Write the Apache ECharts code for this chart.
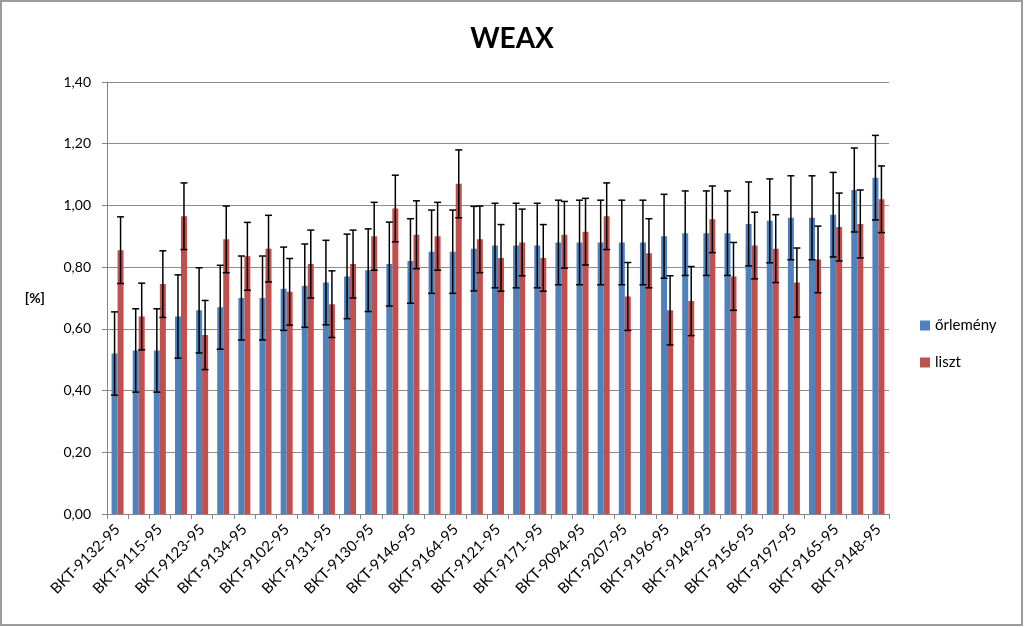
<!DOCTYPE html>
<html>
<head>
<meta charset="utf-8">
<script src="https://cdn.jsdelivr.net/npm/echarts@6/dist/echarts.min.js"></script>
<style>
html,body{margin:0;padding:0;background:#fff;}
#chart{width:1024px;height:627px;}
</style>
</head>
<body>
<div id="chart"></div>
<script>
const categories = [
  'BKT-9132-95','', 'BKT-9115-95','', 'BKT-9123-95','', 'BKT-9134-95','', 'BKT-9102-95','',
  'BKT-9131-95','', 'BKT-9130-95','', 'BKT-9146-95','', 'BKT-9164-95','', 'BKT-9121-95','',
  'BKT-9171-95','', 'BKT-9094-95','', 'BKT-9207-95','', 'BKT-9196-95','', 'BKT-9149-95','',
  'BKT-9156-95','', 'BKT-9197-95','', 'BKT-9165-95','', 'BKT-9148-95'
];
const orlemeny = [0.52,0.53,0.53,0.64,0.66,0.67,0.70,0.70,0.73,0.74,0.75,0.77,0.79,0.81,0.82,0.85,0.85,0.86,0.87,0.87,0.87,0.88,0.88,0.88,0.88,0.88,0.90,0.91,0.91,0.91,0.94,0.95,0.96,0.96,0.97,1.05,1.09];
const orlemenyErr = [0.135,0.135,0.135,0.135,0.138,0.136,0.136,0.136,0.135,0.135,0.137,0.137,0.134,0.136,0.137,0.135,0.135,0.137,0.137,0.137,0.137,0.137,0.137,0.137,0.137,0.137,0.136,0.137,0.137,0.137,0.136,0.136,0.136,0.136,0.137,0.136,0.137];
const liszt = [0.855,0.64,0.745,0.965,0.58,0.89,0.835,0.86,0.72,0.81,0.68,0.81,0.90,0.99,0.905,0.90,1.07,0.89,0.83,0.88,0.83,0.905,0.915,0.965,0.705,0.845,0.66,0.69,0.955,0.77,0.87,0.86,0.75,0.825,0.93,0.94,1.02];
const lisztErr = [0.108,0.108,0.108,0.108,0.112,0.108,0.110,0.108,0.108,0.110,0.108,0.110,0.110,0.108,0.110,0.110,0.110,0.108,0.108,0.108,0.108,0.108,0.108,0.108,0.110,0.112,0.112,0.112,0.108,0.110,0.108,0.110,0.112,0.108,0.110,0.110,0.108];
const yTicks = {min:0, max:1.4, interval:0.2};

const BAR_W = 6;
function errRender(offset){
  return function(params, api){
    const i = api.value(0), v = api.value(1), e = api.value(2);
    const t = api.coord([i, v + e]);
    const b = api.coord([i, v - e]);
    const x = t[0] + offset;
    const cap = 3.5;
    const st = {stroke:'#000', lineWidth:1.5};
    return {type:'group', children:[
      {type:'line', shape:{x1:x, y1:t[1], x2:x, y2:b[1]}, style:st},
      {type:'line', shape:{x1:x-cap, y1:t[1], x2:x+cap, y2:t[1]}, style:st},
      {type:'line', shape:{x1:x-cap, y1:b[1], x2:x+cap, y2:b[1]}, style:st}
    ]};
  };
}

const chart = echarts.init(document.getElementById('chart'));
const font = 'Lato, "Open Sans", sans-serif';
chart.setOption({
  animation:false,
  backgroundColor:'#fff',
  textStyle:{fontFamily:font},
  graphic:[{type:'rect', shape:{x:1, y:1, width:1021, height:624}, style:{fill:'none', stroke:'#9c9c9c', lineWidth:2}, z:100}],
  title:{text:'WEAX', left:'center', top:20, textStyle:{fontFamily:font, fontSize:28, fontWeight:'bold', color:'#000'}},
  legend:{
    orient:'vertical', left:920, top:313, itemWidth:10, itemHeight:10, itemGap:22, padding:[5,5,5,0],
    icon:'rect', textStyle:{fontFamily:font, fontSize:15, color:'#000'},
    data:['őrlemény','liszt']
  },
  grid:{left:107, right:135, top:82, bottom:113},
  xAxis:{
    type:'category', data:categories,
    axisLine:{lineStyle:{color:'#868686'}},
    axisTick:{show:true, alignWithLabel:false, interval:0, length:5, lineStyle:{color:'#868686'}},
    axisLabel:{interval:0, rotate:45, fontSize:15, color:'#000', margin:13}
  },
  yAxis:{
    type:'value', min:yTicks.min, max:yTicks.max, interval:yTicks.interval,
    name:'[%]', nameLocation:'middle', nameRotate:0, nameGap:62,
    nameTextStyle:{fontSize:14, fontWeight:'bold', color:'#000'},
    axisLine:{show:true, lineStyle:{color:'#868686'}},
    axisTick:{show:true, length:5, lineStyle:{color:'#868686'}},
    splitLine:{lineStyle:{color:'#8c8c8c'}},
    axisLabel:{fontSize:14, color:'#000', margin:16, formatter:v=>v.toFixed(2).replace('.',',')}
  },
  series:[
    {name:'őrlemény', type:'bar', data:orlemeny, barWidth:BAR_W, barGap:'0%', itemStyle:{color:'#4F81BD'}},
    {name:'liszt', type:'bar', data:liszt, barWidth:BAR_W, barGap:'0%', itemStyle:{color:'#C0504D'}},
    {name:'errO', type:'custom', renderItem:errRender(-BAR_W/2), data:orlemeny.map((v,i)=>[i,v,orlemenyErr[i]]), encode:{x:0,y:1}, z:5},
    {name:'errL', type:'custom', renderItem:errRender(BAR_W/2), data:liszt.map((v,i)=>[i,v,lisztErr[i]]), encode:{x:0,y:1}, z:5}
  ]
});
</script>
</body>
</html>
